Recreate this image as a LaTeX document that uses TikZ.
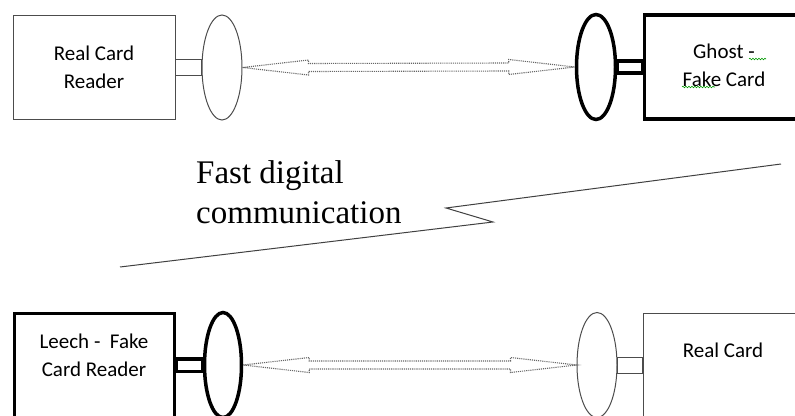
\documentclass[tikz,border=0pt]{standalone}
\usepackage{fontspec}
\setmainfont{Liberation Serif}
\newfontfamily\calfont{Carlito}
\usetikzlibrary{positioning,calc,shapes.geometric,decorations.pathmorphing}

\tikzset{
  thinline/.style={draw=black!70,line width=1pt},
  thickline/.style={draw=black,line width=3.5pt},
  cardbox/.style={rectangle,minimum height=104pt,inner sep=0pt},
  antenna/.style={ellipse,minimum width=39pt,minimum height=105pt,inner sep=0pt},
  boxtext/.style={font=\calfont\fontsize{21}{28}\selectfont,align=center,inner sep=0pt},
  radiolink/.style={draw=black!60,line width=1.1pt,densely dotted},
  spellmark/.style={draw=green!60!black,line width=0.6pt,decorate,
    decoration={snake,amplitude=0.8pt,segment length=3pt}},
}

\begin{document}
\begin{tikzpicture}[x=1pt,y=-1pt]
\useasboundingbox (0,0) rectangle (795,415);

% top row: real reader <-> ghost
\node[cardbox,thinline,minimum width=162pt] (reader) at (94,67) {};
\node[antenna,thinline,minimum width=40pt] (readerant) at (222,67.5) {};
\node[antenna,thickline] (ghostant) at (596,67) {};
\node[cardbox,thickline,minimum width=160pt] (ghost) at (724.5,67) {};
\node[boxtext] (readertxt) at (94,68.4) {\strut Real Card\\\strut Reader};
\node[boxtext] (ghosttxt) at (724,66.4) {\strut Ghost -\\\strut Fake Card};
\draw[thinline] ([yshift=7.5pt]reader.east) rectangle ([yshift=-7.5pt]readerant.west);
\draw[thickline] ([yshift=6pt]ghostant.east) rectangle ([yshift=-6pt]ghost.west);
\draw[spellmark] (749,59) -- (766,59);
\draw[spellmark] (682,87) -- (715,87);

% bottom row: leech <-> real card
\node[cardbox,thickline,minimum width=160pt] (leech) at (94.5,365.5) {};
\node[antenna,thickline,minimum width=37pt] (leechant) at (223,365) {};
\node[antenna,thinline,minimum width=40pt] (cardant) at (597,365) {};
\node[cardbox,thinline,minimum width=160pt] (card) at (723,365) {};
\node[boxtext] (leechtxt) at (94,356.4) {\strut Leech -\ \ Fake\\\strut Card Reader};
\node[boxtext] (cardtxt) at (723,351.4) {\strut Real Card};
\draw[thickline] ([yshift=6.5pt]leech.east) rectangle ([yshift=-6.5pt]leechant.west);
\draw[thinline] ([yshift=8pt]cardant.east) rectangle ([yshift=-8pt]card.west);

% radio links
\foreach \a/\b in {readerant/ghostant,leechant/cardant}
  \draw[radiolink] (\a.east) -- ++(66,-7.5) -- ++(0,3.5) -- ($(\b.west)+(-66,-4)$)
    -- ++(0,-3.5) -- (\b.west) -- ++(-66,7.5) -- ++(0,-3.5)
    -- ($(\a.east)+(66,4)$) -- ++(0,3.5) -- cycle;

% relay between leech and ghost
\coordinate (relaystart) at (120,267);
\coordinate (relayend) at (781,164);
\draw[line width=1pt,black!75] (relaystart) -- (493,222) -- (446,208) -- (relayend);
\node[font=\fontsize{33}{40}\selectfont,align=left,inner sep=0pt,anchor=west]
  (relaytxt) at (196,195) {\strut Fast digital\\\strut communication};
\end{tikzpicture}
\end{document}
